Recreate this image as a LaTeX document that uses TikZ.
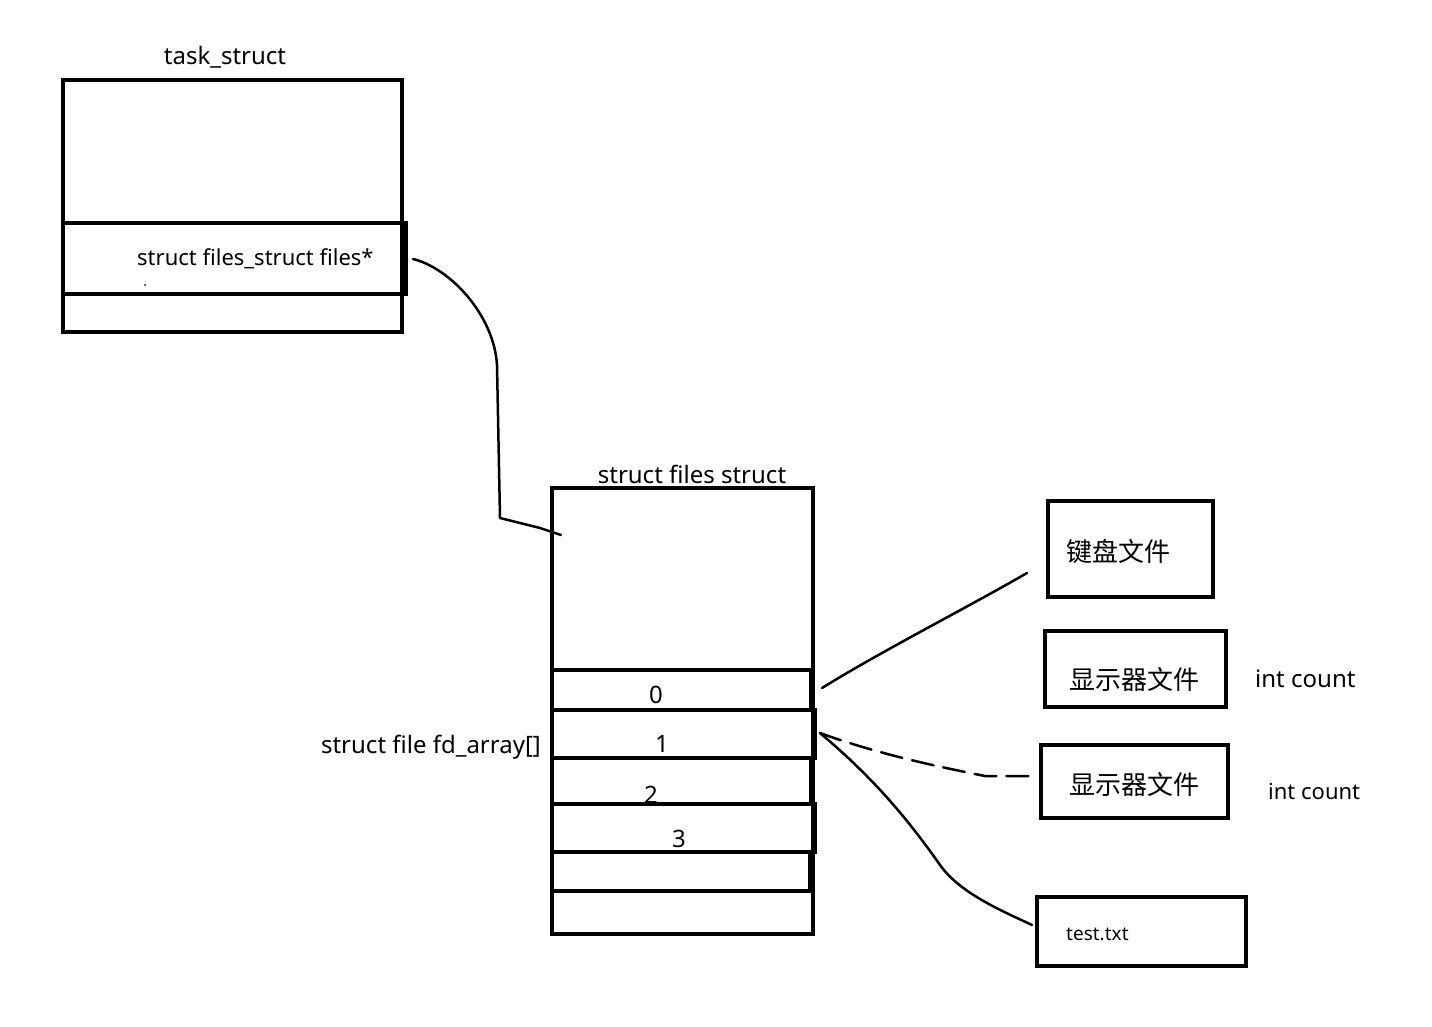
\documentclass[tikz,border=0pt]{standalone}
\usepackage{fontspec}
\setmainfont{Noto Sans}
\newfontfamily\cjk{Noto Sans CJK SC}
\begin{document}
\begin{tikzpicture}[x=1pt,y=-1pt,
  box/.style={draw, line width=4pt, inner sep=0pt, outer sep=0pt, anchor=north west},
  wire/.style={line width=2.5pt, line cap=round, line join=round},
  lbl/.style={inner sep=0pt, font=\fontsize{24}{28}\selectfont},
  small/.style={inner sep=0pt, font=\fontsize{22}{26}\selectfont},
  tiny/.style={inner sep=0pt, font=\fontsize{19}{22}\selectfont},
  zh/.style={inner sep=0pt, font=\cjk\fontsize{26}{30}\selectfont}]
\useasboundingbox (0,0) rectangle (1432,1027);
\fill[white] (0,0) rectangle (1432,1027);

% task_struct
\node[box, minimum width=339pt, minimum height=252pt] (task) at (63,80) {};
\node[box, minimum width=343pt, minimum height=71pt] (taskrow) at (63,223) {};
\node[lbl, anchor=base] (tasktitle) at (225,65) {task\_struct};
\node[small, anchor=base west] (filesptr) at (137,265) {struct files\_struct files*};
\fill (145,285) circle (1pt);

% files struct
\node[box, minimum width=261pt, minimum height=446pt] (files) at (552,488) {};
\node[box, minimum width=259pt, minimum height=40pt] (r0) at (552,670) {};
\node[box, minimum width=263pt, minimum height=48pt] (r1) at (552,710) {};
\node[box, minimum width=259pt, minimum height=46pt] (r2) at (552,758) {};
\node[box, minimum width=263pt, minimum height=48pt] (r3) at (552,804) {};
\node[box, minimum width=258pt, minimum height=39pt] (r4) at (552,852) {};
\node[box, minimum width=261pt, minimum height=43pt] (r5) at (552,891) {};
\node[lbl, anchor=base] (filestitle) at (692,483) {struct files struct};
\node[lbl, anchor=base east] (fdarr) at (541,753) {struct file fd\_array[]};
\node[lbl, anchor=base] (n0) at (656,703) {0};
\node[lbl, anchor=base] (n1) at (662,752) {1};
\node[lbl, anchor=base] (n2) at (651,803) {2};
\node[lbl, anchor=base] (n3) at (679,847) {3};

% right boxes
\node[box, minimum width=165pt, minimum height=96pt] (kbd) at (1048,501) {};
\node[zh, anchor=west] (kbdt) at (1066,552) {键盘文件};
\node[box, minimum width=181pt, minimum height=76pt] (disp1) at (1045,631) {};
\node[zh] (disp1t) at (1134,680) {显示器文件};
\node[lbl, anchor=base west] (cnt1) at (1255,687) {int count};
\node[box, minimum width=187pt, minimum height=73pt] (disp2) at (1041,745) {};
\node[zh] (disp2t) at (1134,785) {显示器文件};
\node[small, anchor=base west] (cnt2) at (1268,799) {int count};
\node[box, minimum width=209pt, minimum height=69pt] (test) at (1037,897) {};
\node[tiny, anchor=base west] (testt) at (1066,940) {test.txt};

% connectors
\coordinate (a1) at (413,259);
\coordinate (a2) at (561,535);
\draw[wire] (a1) .. controls (450,268) and (494,315) .. (497,365) -- (500,518) -- (540,528) -- (a2);

\coordinate (b1) at (822,688);
\coordinate (b2) at (1027,573);
\draw[wire] (b1) .. controls (880,652) and (970,606) .. (b2);

\coordinate (c1) at (820,733);
\coordinate (c2) at (1030,776);
\draw[wire, dash pattern=on 22pt off 10pt] (c1) .. controls (880,755) and (945,768) .. (985,776) -- (c2);

\coordinate (d2) at (1032,925);
\draw[wire] (c1) .. controls (870,775) and (905,815) .. (940,865) .. controls (960,893) and (1000,910) .. (d2);
\end{tikzpicture}
\end{document}
